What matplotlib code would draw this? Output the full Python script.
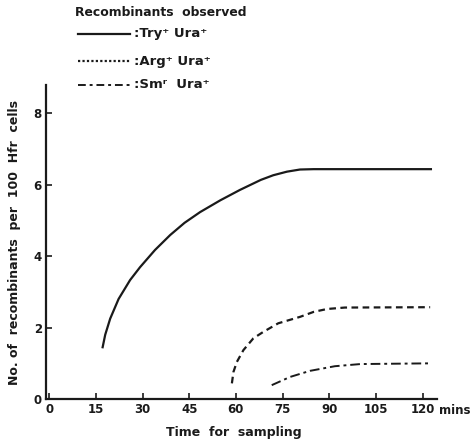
import matplotlib
matplotlib.use("Agg")
import matplotlib.pyplot as plt
from matplotlib.lines import Line2D

# Data
try_x = [17.1, 18.0, 19.6, 22.3, 26.0, 29.2, 34, 38.9, 43.5, 48.5, 55, 61.3, 68, 72, 76.4, 80.6, 85, 123]
try_y = [1.42, 1.80, 2.25, 2.80, 3.33, 3.69, 4.17, 4.59, 4.93, 5.23, 5.56, 5.85, 6.13, 6.26, 6.36, 6.42, 6.43, 6.43]

arg_x = [58.7, 59.2, 60.3, 62.4, 65.6, 68.8, 73.6, 80.6, 85, 89.3, 95, 122.4]
arg_y = [0.44, 0.76, 1.04, 1.37, 1.70, 1.88, 2.12, 2.30, 2.44, 2.52, 2.56, 2.57]

sm_x = [71.5, 77.4, 83.8, 91.8, 100, 122.4]
sm_y = [0.39, 0.62, 0.79, 0.92, 0.98, 1.0]

xticks = [0, 15, 30, 45, 60, 75, 90, 105, 120]
yticks = [0, 2, 4, 6, 8]
legend_labels = [":Try\u207a Ura\u207a", ":Arg\u207a Ura\u207a", ":Sm\u02b3  Ura\u207a"]

ink = "#1a1a1a"
fig = plt.figure(figsize=(4.75, 4.41), dpi=100)
ax = fig.add_axes([0.097, 0.095, 0.823, 0.712])

ax.plot(try_x, try_y, color=ink, lw=1.6, solid_capstyle="butt", solid_joinstyle="round")
ax.plot(arg_x, arg_y, color=ink, lw=1.6, dashes=(3, 2))
ax.plot(sm_x, sm_y, color=ink, lw=1.4, dashes=(5, 2, 1.5, 2))

ax.set_xlim(-1, 124.6)
ax.set_ylim(0, 8.78)
for s in ["top", "right"]:
    ax.spines[s].set_visible(False)
for s in ["left", "bottom"]:
    ax.spines[s].set_linewidth(1.6)
    ax.spines[s].set_color(ink)
ax.set_xticks(xticks)
ax.set_yticks(yticks)
ax.tick_params(direction="in", length=4, width=1.2, color=ink, labelsize=8.5,
               labelcolor=ink, pad=3)
for lab in ax.get_xticklabels() + ax.get_yticklabels():
    lab.set_fontweight("bold")
ax.annotate("mins", xy=(125.3, 0), xycoords=("data", "axes fraction"),
            xytext=(0, -3.5), textcoords="offset points", fontsize=8.5,
            fontweight="bold", color=ink, ha="left", va="top", annotation_clip=False)

ax.set_xlabel("Time  for  sampling", fontsize=9, fontweight="bold", color=ink)
ax.xaxis.set_label_coords((234 - 46) / 391, -0.085)
ax.set_ylabel("No. of  recombinants  per  100  Hfr  cells", fontsize=9,
              fontweight="bold", color=ink, labelpad=9)

# Legend above plot
W, H = 475, 441
fig.text(75 / W, 1 - 13 / H, "Recombinants  observed", fontsize=8.9, fontweight="bold",
         color=ink, ha="left", va="center")
ys = [34, 61, 85]
styles = [dict(lw=1.6), dict(lw=1.6, dashes=(1, 1)), dict(lw=1.4, dashes=(4, 2, 1.5, 2))]
for yy, st, lab in zip(ys, styles, legend_labels):
    fig.add_artist(Line2D([78 / W, 130 / W], [1 - yy / H, 1 - yy / H], color=ink, **st))
    fig.text(134 / W, 1 - yy / H, lab, fontsize=9.5, fontweight="bold", color=ink,
             ha="left", va="center")

fig.savefig("out.png", dpi=100)
